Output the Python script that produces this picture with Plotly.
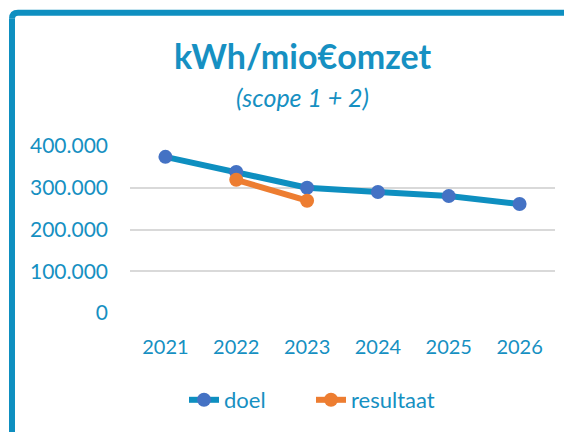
import plotly.graph_objects as go

years = ["2021", "2022", "2023", "2024", "2025", "2026"]
doel = [374000, 338000, 300000, 290000, 280000, 261000]
resultaat_years = ["2022", "2023"]
resultaat = [319000, 269000]
y_ticks = [0, 100000, 200000, 300000, 400000]
y_ticktext = ["0", "100.000", "200.000", "300.000", "400.000"]

# page offset (body margin) compensation
OFF = 8
W, H = 572 - OFF, 432 - OFF
# plot area in page pixels: x 130..555, y 146..314
L = 130 - OFF
T = 146 - OFF
R = W - (555 - OFF)
B = H - (314 - OFF)
PW, PH = W - L - R, H - T - B

def px(x):
    return (x - OFF - L) / PW

def py(y):
    return (H - B - (y - OFF)) / PH

TEAL = "#0E8FC0"
TEXT = "#1690C2"
BLUE = "#4472C4"
ORANGE = "#ED7D31"
FONT = "Lato"

fig = go.Figure()
fig.add_trace(go.Scatter(
    x=years, y=doel, name="doel", mode="lines+markers",
    line=dict(color=TEAL, width=6),
    marker=dict(color=BLUE, size=14, line=dict(width=0)),
))
fig.add_trace(go.Scatter(
    x=resultaat_years, y=resultaat, name="resultaat", mode="lines+markers",
    line=dict(color=ORANGE, width=6),
    marker=dict(color=ORANGE, size=14, line=dict(width=0)),
))

r = 6
corner = (f"M {px(12)} {py(12 + r)} Q {px(12)} {py(12)} {px(12 + r)} {py(12)}")
border = dict(color=TEAL, width=6)
shapes = [
    dict(type="line", xref="paper", yref="paper", x0=px(12), x1=px(12),
         y0=py(12 + r), y1=py(450), line=border, layer="above"),
    dict(type="line", xref="paper", yref="paper", x0=px(12 + r), x1=px(590),
         y0=py(12), y1=py(12), line=border, layer="above"),
    dict(type="path", path=corner, xref="paper", yref="paper", line=border, layer="above"),
]

fig.update_layout(
    width=W, height=H,
    margin=dict(l=L, r=R, t=T, b=B),
    paper_bgcolor="white", plot_bgcolor="white",
    font=dict(family=FONT, size=20, color=TEXT),
    showlegend=True,
    legend=dict(orientation="h", x=px(184), y=py(400), xanchor="left", yanchor="middle",
                font=dict(family=FONT, size=22, color=TEXT),
                entrywidth=82, entrywidthmode="pixels",
                bgcolor="rgba(0,0,0,0)"),
    xaxis=dict(type="category", range=[-0.5, 5.5], showgrid=False, zeroline=False,
               showline=False, ticks="", ticklabelstandoff=20,
               tickfont=dict(family=FONT, size=20, color=TEXT), fixedrange=True),
    yaxis=dict(range=[0, 400000], tickvals=y_ticks, ticktext=y_ticktext,
               showgrid=True, gridcolor="#D9D9D9", gridwidth=1.5, zeroline=False,
               showline=False, ticks="", ticklabelstandoff=21,
               tickfont=dict(family=FONT, size=21, color=TEXT)),
    annotations=[
        dict(text="<b>kWh/mio€omzet</b>", xref="paper", yref="paper",
             x=px(303), y=py(55), xanchor="center", yanchor="middle", showarrow=False,
             font=dict(family=FONT, size=34, color=TEXT)),
        dict(text="<i>(scope 1 + 2)</i>", xref="paper", yref="paper",
             x=px(302), y=py(97), xanchor="center", yanchor="middle", showarrow=False,
             font=dict(family=FONT, size=25, color=TEXT)),
    ],
    shapes=shapes,
)

fig.write_html("out.html")
